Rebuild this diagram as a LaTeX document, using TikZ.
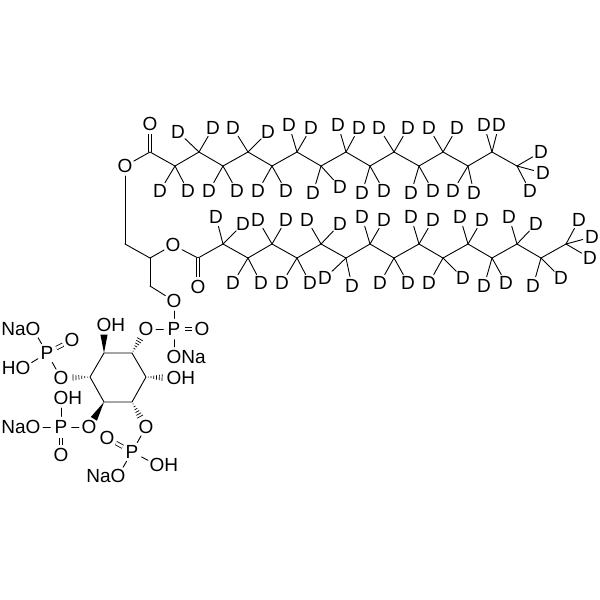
\documentclass[tikz,border=0pt]{standalone}
\usepackage{fontspec}
\setmainfont{Liberation Sans}
\usetikzlibrary{calc}
\tikzset{
  bond/.style={line width=0.9pt,black,line cap=round},
  dbl/.style={line width=0.8pt,black,double,double distance=2.8pt},
  atomD/.style={circle,inner sep=0pt,minimum size=17pt,font=\fontsize{19}{19}\selectfont,text=black},
  atomO/.style={circle,inner sep=0pt,minimum size=18pt,font=\fontsize{19}{19}\selectfont,text=black},
  atomP/.style={circle,inner sep=0pt,minimum size=21pt,font=\fontsize{19}{19}\selectfont,text=black},
}
\newcommand{\deut}[3]{\node[atomD] (#1) at (#2) {D}; \draw[bond] (#3) -- (#1);}
\newcommand{\solidwedge}[2]{%
  \fill[black] (#1) -- ($($(#2)!9.5pt!(#1)$)!3.6pt!90:(#1)$) -- ($($(#2)!9.5pt!(#1)$)!3.6pt!-90:(#1)$) -- cycle;}
\newcommand{\hashwedge}[2]{%
  \foreach \t in {0.12,0.27,0.42,0.57,0.72,0.87}{%
    \draw[black,line width=0.7pt]
      ($($(#1)!\t!($(#2)!9.5pt!(#1)$)$)!{3.8pt*\t}!90:(#1)$) --
      ($($(#1)!\t!($(#2)!9.5pt!(#1)$)$)!{3.8pt*\t}!-90:(#1)$);}}
\begin{document}
\begin{tikzpicture}[x=1pt,y=-1pt]
\useasboundingbox (0,0) rectangle (600,600);
% upper chain carbons
\coordinate (u0) at (150,152);
\coordinate (u1) at (175,166);
\coordinate (u2) at (199,152);
\coordinate (u3) at (223,166);
\coordinate (u4) at (248,152);
\coordinate (u5) at (272,166);
\coordinate (u6) at (297,152);
\coordinate (u7) at (321,166);
\coordinate (u8) at (346,152);
\coordinate (u9) at (370,166);
\coordinate (u10) at (394,152);
\coordinate (u11) at (419,166);
\coordinate (u12) at (443,152);
\coordinate (u13) at (468,166);
\coordinate (u14) at (492,152);
\coordinate (u15) at (517,166);
\draw[bond,line join=round] (u0)--(u1)--(u2)--(u3)--(u4)--(u5)--(u6)--(u7)--(u8)--(u9)--(u10)--(u11)--(u12)--(u13)--(u14)--(u15);
% lower chain carbons
\coordinate (l0) at (198,258);
\coordinate (l1) at (223,244);
\coordinate (l2) at (248,258);
\coordinate (l3) at (272,244);
\coordinate (l4) at (297,258);
\coordinate (l5) at (321,244);
\coordinate (l6) at (346,258);
\coordinate (l7) at (370,244);
\coordinate (l8) at (394,258);
\coordinate (l9) at (419,244);
\coordinate (l10) at (443,258);
\coordinate (l11) at (468,244);
\coordinate (l12) at (492,258);
\coordinate (l13) at (517,244);
\coordinate (l14) at (541,258);
\coordinate (l15) at (566,244);
\draw[bond,line join=round] (l0)--(l1)--(l2)--(l3)--(l4)--(l5)--(l6)--(l7)--(l8)--(l9)--(l10)--(l11)--(l12)--(l13)--(l14)--(l15);
% upper deuteriums
\deut{ua1}{160,191}{u1}\deut{ub1}{188,191}{u1}
\deut{ua2}{178,132}{u2}\deut{ub2}{213,128}{u2}
\deut{ua3}{209,191}{u3}\deut{ub3}{237,191}{u3}
\deut{ua4}{233,128}{u4}\deut{ub4}{268,132}{u4}
\deut{ua5}{258,191}{u5}\deut{ub5}{286,191}{u5}
\deut{ua6}{289,125}{u6}\deut{ub6}{311,128}{u6}
\deut{ua7}{313,193}{u7}\deut{ub7}{340,187}{u7}
\deut{ua8}{338,125}{u8}\deut{ub8}{359,128}{u8}
\deut{ua9}{362,193}{u9}\deut{ub9}{384,191}{u9}
\deut{ua10}{379,128}{u10}\deut{ub10}{408,128}{u10}
\deut{ua11}{411,193}{u11}\deut{ub11}{433,191}{u11}
\deut{ua12}{429,128}{u12}\deut{ub12}{457,128}{u12}
\deut{ua13}{453,191}{u13}\deut{ub13}{474,193}{u13}
\deut{ua14}{484,125}{u14}\deut{ub14}{499,125}{u14}
\deut{ua15}{541,152}{u15}\deut{ub15}{543,173}{u15}\deut{uc15}{530,191}{u15}
% lower deuteriums
\deut{la1}{216,217}{l1}\deut{lb1}{243,224}{l1}
\deut{la2}{233,283}{l2}\deut{lb2}{261,283}{l2}
\deut{la3}{258,220}{l3}\deut{lb3}{286,220}{l3}
\deut{la4}{282,283}{l4}\deut{lb4}{310,283}{l4}
\deut{la5}{307,220}{l5}\deut{lb5}{340,224}{l5}
\deut{la6}{325,278}{l6}\deut{lb6}{352,286}{l6}
\deut{la7}{362,217}{l7}\deut{lb7}{384,220}{l7}
\deut{la8}{380,283}{l8}\deut{lb8}{408,283}{l8}
\deut{la9}{411,217}{l9}\deut{lb9}{433,220}{l9}
\deut{la10}{429,283}{l10}\deut{lb10}{463,278}{l10}
\deut{la11}{460,217}{l11}\deut{lb11}{482,220}{l11}
\deut{la12}{484,286}{l12}\deut{lb12}{506,283}{l12}
\deut{la13}{509,217}{l13}\deut{lb13}{536,224}{l13}
\deut{la14}{533,286}{l14}\deut{lb14}{561,278}{l14}
\deut{la15}{579,220}{l15}\deut{lb15}{592,237}{l15}\deut{lc15}{590,258}{l15}
% glycerol and esters
\node[atomO] (oup) at (150,124) {O};
\node[atomO] (oue) at (125,166) {O};
\node[atomO] (olo) at (198,287) {O};
\node[atomO] (ole) at (173,245) {O};
\node[atomO] (ogp) at (174,301) {O};
\coordinate (g1) at (125,244);
\coordinate (g2) at (150,258);
\coordinate (g3) at (150,286);
\draw[dbl] (u0) -- (oup);
\draw[bond] (u0) -- (oue);
\draw[bond] (oue) -- (g1);
\draw[bond] (g1) -- (g2);
\draw[bond] (g2) -- (g3);
\draw[bond] (g3) -- (ogp);
\draw[bond] (g2) -- (ole);
\draw[bond] (ole) -- (l0);
\draw[dbl] (l0) -- (olo);
% ring
\coordinate (r1) at (132,353);
\coordinate (r2) at (104,353);
\coordinate (r3) at (90,377);
\coordinate (r4) at (104,402);
\coordinate (r5) at (132,402);
\coordinate (r6) at (146,377);
\draw[bond,line join=round] (r1)--(r2)--(r3)--(r4)--(r5)--(r6)--cycle;
% phosphate 1
\node[atomP] (p1) at (174,329) {P};
\node[atomO] (o1d) at (202,329) {O};
\node[atomO] (o1r) at (146,329) {O};
\node[atomO] (o1n) at (174,357) {O\rlap{Na}};
\draw[bond] (ogp) -- (p1);
\draw[bond] (o1r) -- (p1);
\draw[dbl] (p1) -- (o1d);
\draw[bond] (p1) -- (o1n);
% hydroxyls on the ring
\node[atomO] (ohtop) at (104,325) {O\rlap{H}};
\node[atomO] (ohright) at (174,378) {O\rlap{H}};
% phosphate 2
\node[atomP] (p2) at (47,353) {P};
\node[atomO] (o2n) at (33,329) {\llap{Na}O};
\node[atomO] (o2d) at (72,340) {O};
\node[atomO] (o2h) at (23,368) {\llap{H}O};
\node[atomO] (o2r) at (61,378) {O};
\draw[bond] (o2n) -- (p2);
\draw[dbl] (p2) -- (o2d);
\draw[bond] (o2h) -- (p2);
\draw[bond] (p2) -- (o2r);
% phosphate 3
\node[atomP] (p3) at (61,427) {P};
\node[atomO] (o3h) at (61,398) {O\rlap{H}};
\node[atomO] (o3n) at (33,427) {\llap{Na}O};
\node[atomO] (o3d) at (61,455) {O};
\node[atomO] (o3r) at (89,427) {O};
\draw[bond] (o3h) -- (p3);
\draw[bond] (o3n) -- (p3);
\draw[dbl] (p3) -- (o3d);
\draw[bond] (p3) -- (o3r);
% phosphate 4
\node[atomP] (p4) at (132,452) {P};
\node[atomO] (o4r) at (146,427) {O};
\node[atomO] (o4d) at (107,438) {O};
\node[atomO] (o4h) at (157,465) {O\rlap{H}};
\node[atomO] (o4n) at (118,476) {\llap{Na}O};
\draw[bond] (o4r) -- (p4);
\draw[dbl] (p4) -- (o4d);
\draw[bond] (p4) -- (o4h);
\draw[bond] (p4) -- (o4n);
% stereo bonds
\solidwedge{r2}{ohtop}
\solidwedge{r4}{o3r}
\hashwedge{r1}{o1r}
\hashwedge{r3}{o2r}
\hashwedge{r6}{ohright}
\hashwedge{r5}{o4r}
\end{tikzpicture}
\end{document}
